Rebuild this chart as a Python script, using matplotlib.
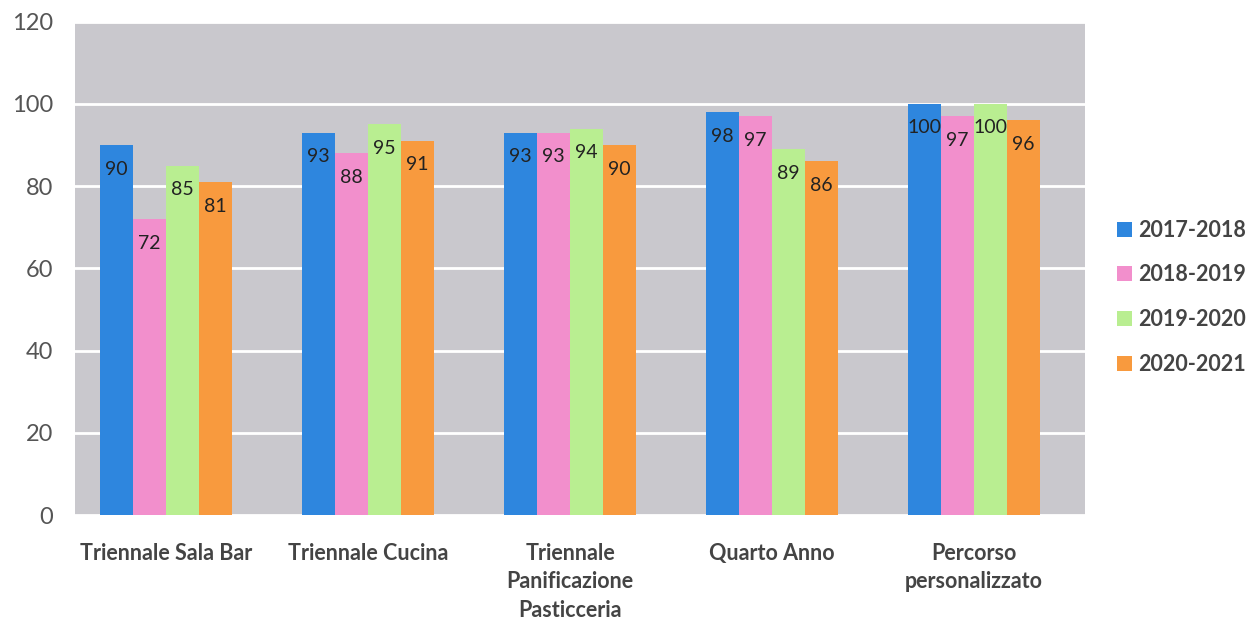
import matplotlib
matplotlib.use("Agg")
import matplotlib.pyplot as plt
import numpy as np

categories = ["Triennale Sala Bar", "Triennale Cucina",
              "Triennale\nPanificazione\nPasticceria", "Quarto Anno",
              "Percorso\npersonalizzato"]
series_names = ["2017-2018", "2018-2019", "2019-2020", "2020-2021"]
v_2017_2018 = [90, 93, 93, 98, 100]
v_2018_2019 = [72, 88, 93, 97, 97]
v_2019_2020 = [85, 95, 94, 89, 100]
v_2020_2021 = [81, 91, 90, 86, 96]
yticks = [0, 20, 40, 60, 80, 100, 120]

series = [v_2017_2018, v_2018_2019, v_2019_2020, v_2020_2021]
colors = ["#2e86de", "#f28fcc", "#b9ee91", "#f89a3e"]

plt.rcParams['font.family'] = ['Lato', 'DejaVu Sans']

fig = plt.figure(figsize=(12.53, 6.19), dpi=100)
ax = fig.add_axes([0.06, 0.168, 0.806, 0.797])
ax.set_facecolor("#c9c8cd")

x = np.arange(len(categories))
w = 0.163
for i, (vals, c, name) in enumerate(zip(series, colors, series_names)):
    pos = x + (i - 1.5) * w
    bars = ax.bar(pos, vals, width=w, color=c, label=name, zorder=3)
    for b, v in zip(bars, vals):
        ax.annotate(f"{v}", (b.get_x() + b.get_width() / 2, v),
                    xytext=(0, -24), textcoords="offset pixels",
                    ha="center", va="center", fontsize=14, color="#222222", zorder=4)

ax.set_xlim(-0.45, len(categories) - 0.45)
ax.set_ylim(0, 120)
ax.set_yticks(yticks)
ax.yaxis.grid(True, color="white", linewidth=2, zorder=1)
ax.set_axisbelow(True)
for s in ax.spines.values():
    s.set_visible(False)
ax.tick_params(axis="y", length=0, pad=16, labelsize=17, labelcolor="#555555")
ax.tick_params(axis="x", length=0, pad=20)
ax.set_xticks(x)
ax.set_xticklabels(categories, fontsize=15.5, fontweight="bold", color="#444444",
                   linespacing=1.45, va="top")

leg = fig.legend(loc="center left", bbox_to_anchor=(0.876, 0.52), frameon=False,
                 prop={"size": 15.5, "weight": "bold"}, labelcolor="#444444",
                 handlelength=0.7, handleheight=0.7, handletextpad=0.3,
                 labelspacing=1.1)

fig.savefig("out.png", dpi=100, facecolor="white")
